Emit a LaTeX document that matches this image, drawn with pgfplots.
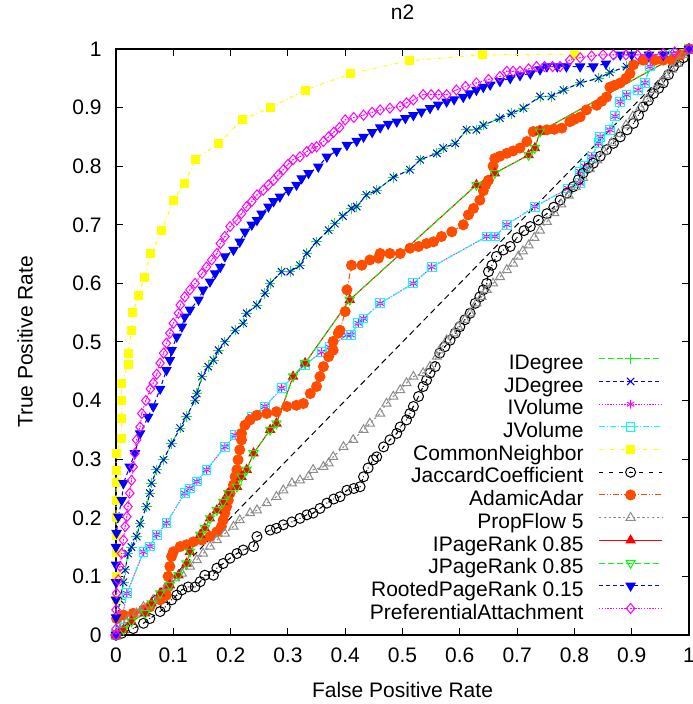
\documentclass[border=0pt]{standalone}
\usepackage{pgfplots}
\pgfplotsset{compat=1.18}
\usepackage{fontspec}
\setmainfont{Liberation Sans}
\definecolor{cgreen}{RGB}{0,255,0}
\definecolor{cblue}{RGB}{0,0,255}
\definecolor{cmag}{RGB}{255,0,255}
\definecolor{ccyan}{RGB}{0,255,255}
\definecolor{cyel}{RGB}{255,255,0}
\definecolor{corange}{RGB}{255,77,0}
\definecolor{cgray}{RGB}{140,140,140}
\definecolor{cred}{RGB}{255,0,0}
\pgfdeclareplotmark{circdot}{%
  \pgfpathcircle{\pgfpointorigin}{\pgfplotmarksize}\pgfusepathqstroke
  \pgfpathcircle{\pgfpointorigin}{0.35pt}\pgfusepathqfill}
\pgfdeclareplotmark{sqline}{%
  \pgfpathrectangle{\pgfpoint{-\pgfplotmarksize}{-\pgfplotmarksize}}{\pgfpoint{2\pgfplotmarksize}{2\pgfplotmarksize}}%
  \pgfpathmoveto{\pgfpoint{-\pgfplotmarksize}{0pt}}\pgfpathlineto{\pgfpoint{\pgfplotmarksize}{0pt}}\pgfusepathqstroke}
\pgfdeclareplotmark{diamdot}{%
  \pgfpathmoveto{\pgfpoint{0pt}{\pgfplotmarksize}}\pgfpathlineto{\pgfpoint{0.85\pgfplotmarksize}{0pt}}%
  \pgfpathlineto{\pgfpoint{0pt}{-\pgfplotmarksize}}\pgfpathlineto{\pgfpoint{-0.85\pgfplotmarksize}{0pt}}\pgfpathclose\pgfusepathqstroke
  \pgfpathcircle{\pgfpointorigin}{0.35pt}\pgfusepathqfill}
\begin{document}
\fontsize{10.5}{12.6}\selectfont
\begin{tikzpicture}
\begin{axis}[
  scale only axis, width=286.5pt, height=293pt,
  xmin=0, xmax=1, ymin=0, ymax=1,
  clip=false,
  xtick={0,0.1,0.2,0.3,0.4,0.5,0.6,0.7,0.8,0.9,1},
  ytick={0,0.1,0.2,0.3,0.4,0.5,0.6,0.7,0.8,0.9,1},
  /pgf/number format/assume math mode=true,
  tick align=inside, major tick length=3.5pt,
  tick style={line width=0.5pt, black},
  axis line style={line width=0.6pt},
  xticklabel style={yshift=-2.75pt},
  yticklabel style={xshift=-3.5pt},
  title={n2}, xlabel={False Positive Rate}, ylabel={True Positive Rate},
  every axis title/.style={at={(axis description cs:0.5,1)}, anchor=center, yshift=18.5pt},
  every axis x label/.style={at={(axis description cs:0.5,0)}, anchor=center, yshift=-27.5pt},
  every axis y label/.style={at={(axis description cs:0,0.5)}, rotate=90, anchor=center, yshift=45.5pt},
  every axis plot/.append style={line width=0.5pt},
  legend plot pos=right,
  legend cell align=right,
  legend image code/.code={\draw[mark repeat=2,mark phase=2] plot coordinates {(0pt,3pt)(15.75pt,3pt)(31.5pt,3pt)};},
  legend style={draw=none, fill=none, at={(axis description cs:0.9546,0.015)}, anchor=south east,
    inner sep=0pt, row sep=0pt, column sep=7.5pt,
    nodes={inner sep=0pt, text height=8pt, text depth=3.35pt}},
]
\addplot[black, dash pattern=on 3pt off 2pt, forget plot] coordinates {(0,0) (1,1)};
% IDegree
\addplot[cgreen, dash pattern=on 3pt off 1.5pt, mark=+, mark size=2.6pt, mark options={solid}] coordinates {
(0,0)(0.002,0.03)(0.007,0.06)(0.013,0.09)(0.016,0.111)(0.021,0.139)(0.027,0.15)(0.036,0.168)(0.042,0.19)(0.053,0.219)(0.059,0.242)(0.062,0.259)(0.071,0.282)(0.083,0.299)(0.097,0.327)(0.112,0.353)(0.123,0.373)(0.138,0.401)(0.141,0.412)(0.15,0.441)(0.161,0.458)(0.17,0.469)(0.179,0.486)(0.19,0.50)(0.208,0.52)(0.222,0.532)(0.228,0.549)(0.246,0.563)(0.26,0.583)(0.269,0.60)(0.289,0.62)(0.304,0.62)(0.321,0.631)(0.333,0.651)(0.35,0.671)(0.371,0.691)(0.382,0.702)(0.396,0.715)(0.411,0.728)(0.42,0.731)(0.437,0.751)(0.455,0.759)(0.484,0.781)(0.513,0.794)(0.531,0.811)(0.56,0.822)(0.571,0.831)(0.592,0.839)(0.612,0.862)(0.629,0.862)(0.641,0.87)(0.67,0.882)(0.69,0.89)(0.711,0.899)(0.74,0.919)(0.76,0.919)(0.781,0.93)(0.81,0.942)(0.842,0.95)(0.862,0.96)(0.891,0.97)(0.932,0.981)(0.96,0.99)(1,1)};
\addlegendentry{IDegree}
% JDegree
\addplot[cblue, dash pattern=on 2pt off 1.5pt, mark=x, mark size=2.6pt, mark options={solid}] coordinates {
(0,0)(0.002,0.03)(0.007,0.06)(0.013,0.09)(0.016,0.111)(0.021,0.139)(0.027,0.15)(0.036,0.168)(0.042,0.19)(0.053,0.219)(0.059,0.242)(0.062,0.259)(0.071,0.282)(0.083,0.299)(0.097,0.327)(0.112,0.353)(0.123,0.373)(0.138,0.401)(0.141,0.412)(0.15,0.441)(0.161,0.458)(0.17,0.469)(0.179,0.486)(0.19,0.50)(0.208,0.52)(0.222,0.532)(0.228,0.549)(0.246,0.563)(0.26,0.583)(0.269,0.60)(0.289,0.62)(0.304,0.62)(0.321,0.631)(0.333,0.651)(0.35,0.671)(0.371,0.691)(0.382,0.702)(0.396,0.715)(0.411,0.728)(0.42,0.731)(0.437,0.751)(0.455,0.759)(0.484,0.781)(0.513,0.794)(0.531,0.811)(0.56,0.822)(0.571,0.831)(0.592,0.839)(0.612,0.862)(0.629,0.862)(0.641,0.87)(0.67,0.882)(0.69,0.89)(0.711,0.899)(0.74,0.919)(0.76,0.919)(0.781,0.93)(0.81,0.942)(0.842,0.95)(0.862,0.96)(0.891,0.97)(0.932,0.981)(0.96,0.99)(1,1)};
\addlegendentry{JDegree}
% IVolume
\addplot[cmag, dash pattern=on 0.7pt off 0.7pt, mark=asterisk, mark size=2.2pt, mark options={solid}] coordinates {
(0,0)(0.007,0.012)(0.019,0.071)(0.048,0.142)(0.059,0.151)(0.071,0.171)(0.088,0.191)(0.12,0.242)(0.129,0.25)(0.141,0.262)(0.158,0.282)(0.19,0.321)(0.208,0.341)(0.237,0.373)(0.26,0.39)(0.289,0.421)(0.33,0.461)(0.359,0.483)(0.373,0.491)(0.403,0.512)(0.41,0.512)(0.423,0.532)(0.432,0.54)(0.461,0.566)(0.519,0.60)(0.551,0.628)(0.647,0.68)(0.661,0.68)(0.682,0.70)(0.731,0.731)(0.789,0.762)(0.81,0.771)(0.81,0.791)(0.818,0.80)(0.83,0.816)(0.842,0.839)(0.845,0.85)(0.862,0.862)(0.871,0.885)(0.88,0.91)(0.891,0.922)(0.911,0.93)(0.923,0.942)(0.932,0.97)(0.973,0.992)(1,1)};
\addlegendentry{IVolume}
% JVolume
\addplot[ccyan, dash pattern=on 3pt off 1pt on 0.5pt off 1pt, mark=sqline, mark size=2.2pt, mark options={solid}] coordinates {
(0,0)(0.007,0.012)(0.019,0.071)(0.048,0.142)(0.059,0.151)(0.071,0.171)(0.088,0.191)(0.12,0.242)(0.129,0.25)(0.141,0.262)(0.158,0.282)(0.19,0.321)(0.208,0.341)(0.237,0.373)(0.26,0.39)(0.289,0.421)(0.33,0.461)(0.359,0.483)(0.373,0.491)(0.403,0.512)(0.41,0.512)(0.423,0.532)(0.432,0.54)(0.461,0.566)(0.519,0.60)(0.551,0.628)(0.647,0.68)(0.661,0.68)(0.682,0.70)(0.731,0.731)(0.789,0.762)(0.81,0.771)(0.81,0.791)(0.818,0.80)(0.83,0.816)(0.842,0.839)(0.845,0.85)(0.862,0.862)(0.871,0.885)(0.88,0.91)(0.891,0.922)(0.911,0.93)(0.923,0.942)(0.932,0.97)(0.973,0.992)(1,1)};
\addlegendentry{JVolume}
% CommonNeighbor
\addplot[cyel, dash pattern=on 2pt off 1.5pt on 0.5pt off 1.5pt, mark=square*, mark size=2pt, mark options={solid, fill=cyel}] coordinates {
(0,0)(0,0.03)(0,0.06)(0,0.10)(0,0.14)(0,0.17)(0,0.2)(0,0.23)(0,0.26)(0,0.28)(0,0.31)(0.009,0.335)(0.01,0.37)(0.01,0.40)(0.01,0.43)(0.021,0.462)(0.021,0.481)(0.027,0.52)(0.029,0.55)(0.04,0.58)(0.049,0.61)(0.061,0.651)(0.08,0.69)(0.1,0.741)(0.12,0.771)(0.139,0.812)(0.179,0.839)(0.22,0.879)(0.27,0.9)(0.33,0.93)(0.41,0.958)(0.512,0.98)(0.64,0.99)(0.801,0.991)(1,1)};
\addlegendentry{CommonNeighbor}
% JaccardCoefficient
\addplot[black, dash pattern=on 2pt off 3pt, mark=circdot, mark size=2.5pt, mark options={solid}] coordinates {
(0,0)(0.01,0.003)(0.03,0.011)(0.048,0.02)(0.059,0.028)(0.077,0.04)(0.086,0.048)(0.097,0.06)(0.106,0.068)(0.115,0.077)(0.126,0.082)(0.138,0.082)(0.147,0.091)(0.155,0.102)(0.17,0.102)(0.176,0.114)(0.187,0.122)(0.199,0.131)(0.211,0.139)(0.222,0.145)(0.24,0.151)(0.246,0.168)(0.269,0.179)(0.28,0.182)(0.292,0.188)(0.307,0.193)(0.321,0.199)(0.333,0.205)(0.344,0.208)(0.356,0.216)(0.368,0.225)(0.38,0.232)(0.391,0.236)(0.403,0.247)(0.415,0.25)(0.426,0.253)(0.432,0.27)(0.44,0.285)(0.449,0.299)(0.455,0.304)(0.467,0.321)(0.478,0.333)(0.49,0.344)(0.496,0.355)(0.507,0.367)(0.513,0.378)(0.519,0.39)(0.528,0.407)(0.536,0.424)(0.542,0.435)(0.548,0.447)(0.557,0.458)(0.565,0.481)(0.574,0.492)(0.583,0.503)(0.592,0.515)(0.6,0.526)(0.609,0.538)(0.618,0.549)(0.627,0.566)(0.635,0.577)(0.641,0.589)(0.647,0.60)(0.65,0.62)(0.656,0.631)(0.664,0.646)(0.676,0.657)(0.688,0.663)(0.70,0.678)(0.712,0.69)(0.723,0.697)(0.737,0.708)(0.752,0.719)(0.764,0.73)(0.775,0.742)(0.787,0.754)(0.798,0.765)(0.807,0.777)(0.815,0.788)(0.824,0.797)(0.833,0.805)(0.845,0.817)(0.856,0.828)(0.868,0.839)(0.88,0.85)(0.892,0.862)(0.903,0.873)(0.912,0.887)(0.92,0.901)(0.929,0.912)(0.938,0.924)(0.947,0.933)(0.955,0.942)(0.964,0.956)(0.973,0.97)(0.982,0.978)(0.99,0.985)(1,1)};
\addlegendentry{JaccardCoefficient}
% AdamicAdar
\addplot[corange, dash pattern=on 3pt off 1pt on 0.5pt off 1pt on 0.5pt off 1pt, mark=*, mark size=2.5pt, mark options={solid, fill=corange}] coordinates {
(0,0)(0.001,0.028)(0.013,0.034)(0.03,0.037)(0.048,0.043)(0.059,0.048)(0.077,0.06)(0.088,0.068)(0.091,0.082)(0.091,0.1)(0.094,0.117)(0.097,0.134)(0.1,0.142)(0.112,0.151)(0.123,0.154)(0.135,0.159)(0.15,0.162)(0.164,0.168)(0.176,0.176)(0.184,0.185)(0.187,0.196)(0.19,0.208)(0.193,0.219)(0.196,0.23)(0.199,0.242)(0.205,0.256)(0.208,0.27)(0.211,0.282)(0.213,0.299)(0.216,0.316)(0.219,0.333)(0.219,0.344)(0.225,0.358)(0.234,0.367)(0.246,0.375)(0.263,0.378)(0.28,0.381)(0.298,0.39)(0.315,0.392)(0.327,0.395)(0.339,0.412)(0.35,0.424)(0.356,0.441)(0.362,0.458)(0.371,0.475)(0.379,0.486)(0.379,0.501)(0.388,0.515)(0.391,0.52)(0.40,0.552)(0.403,0.589)(0.411,0.631)(0.429,0.631)(0.443,0.64)(0.458,0.643)(0.461,0.651)(0.478,0.651)(0.496,0.651)(0.513,0.66)(0.528,0.663)(0.542,0.668)(0.554,0.671)(0.568,0.68)(0.586,0.688)(0.606,0.70)(0.615,0.717)(0.624,0.728)(0.635,0.742)(0.641,0.758)(0.645,0.768)(0.65,0.776)(0.658,0.80)(0.661,0.813)(0.67,0.817)(0.682,0.822)(0.693,0.826)(0.705,0.831)(0.717,0.842)(0.728,0.859)(0.74,0.861)(0.752,0.862)(0.765,0.863)(0.778,0.865)(0.792,0.876)(0.80,0.88)(0.81,0.884)(0.821,0.896)(0.839,0.904)(0.848,0.911)(0.856,0.918)(0.862,0.935)(0.87,0.938)(0.88,0.942)(0.89,0.95)(0.897,0.958)(0.903,0.973)(0.92,0.981)(0.94,0.981)(0.955,0.981)(0.97,0.981)(0.985,0.99)(1,1)};
\addlegendentry{AdamicAdar}
% PropFlow 5
\addplot[cgray, dash pattern=on 1.2pt off 1.2pt, mark=triangle, mark size=2.6pt, mark options={solid}] coordinates {
(0,0)(0.007,0.009)(0.021,0.026)(0.036,0.037)(0.048,0.048)(0.065,0.06)(0.077,0.071)(0.088,0.082)(0.103,0.097)(0.115,0.105)(0.129,0.117)(0.141,0.128)(0.152,0.139)(0.164,0.151)(0.176,0.162)(0.19,0.173)(0.205,0.185)(0.216,0.196)(0.234,0.208)(0.246,0.213)(0.263,0.225)(0.28,0.236)(0.292,0.247)(0.307,0.259)(0.321,0.264)(0.336,0.27)(0.344,0.282)(0.362,0.287)(0.371,0.293)(0.379,0.304)(0.397,0.321)(0.414,0.333)(0.432,0.35)(0.443,0.361)(0.461,0.378)(0.472,0.395)(0.484,0.407)(0.496,0.418)(0.507,0.43)(0.519,0.441)(0.536,0.447)(0.548,0.458)(0.56,0.475)(0.565,0.486)(0.577,0.503)(0.589,0.515)(0.597,0.526)(0.609,0.538)(0.618,0.549)(0.629,0.566)(0.638,0.577)(0.647,0.589)(0.658,0.60)(0.67,0.611)(0.682,0.623)(0.693,0.634)(0.702,0.646)(0.71,0.655)(0.72,0.665)(0.73,0.678)(0.74,0.69)(0.752,0.705)(0.765,0.72)(0.777,0.735)(0.79,0.75)(0.802,0.765)(0.815,0.78)(0.827,0.795)(0.84,0.81)(0.852,0.825)(0.865,0.84)(0.877,0.855)(0.89,0.87)(0.902,0.885)(0.915,0.9)(0.927,0.915)(0.94,0.93)(0.95,0.942)(0.96,0.955)(0.97,0.965)(0.98,0.975)(0.99,0.99)(1,1)};
\addlegendentry{PropFlow 5}
% IPageRank 0.85
\addplot[cred, mark=triangle*, mark size=2.6pt, mark options={solid, fill=cred}] coordinates {
(0,0)(0.013,0.009)(0.027,0.023)(0.051,0.037)(0.062,0.054)(0.077,0.071)(0.094,0.085)(0.109,0.102)(0.123,0.122)(0.129,0.142)(0.147,0.171)(0.155,0.182)(0.164,0.199)(0.176,0.213)(0.187,0.227)(0.196,0.242)(0.211,0.253)(0.219,0.27)(0.228,0.282)(0.24,0.31)(0.269,0.35)(0.28,0.361)(0.309,0.441)(0.33,0.464)(0.408,0.572)(0.629,0.768)(0.661,0.788)(0.72,0.819)(0.731,0.831)(0.74,0.859)(1,1)};
\addlegendentry{IPageRank 0.85}
% JPageRank 0.85
\addplot[cgreen, dash pattern=on 3pt off 1.5pt, mark=triangle, mark size=2.6pt, mark options={solid, rotate=180}] coordinates {
(0,0)(0.013,0.009)(0.027,0.023)(0.051,0.037)(0.062,0.054)(0.077,0.071)(0.094,0.085)(0.109,0.102)(0.123,0.122)(0.129,0.142)(0.147,0.171)(0.155,0.182)(0.164,0.199)(0.176,0.213)(0.187,0.227)(0.196,0.242)(0.211,0.253)(0.219,0.27)(0.228,0.282)(0.24,0.31)(0.269,0.35)(0.28,0.361)(0.309,0.441)(0.33,0.464)(0.408,0.572)(0.629,0.768)(0.661,0.788)(0.72,0.819)(0.731,0.831)(0.74,0.859)(1,1)};
\addlegendentry{JPageRank 0.85}
% RootedPageRank 0.15
\addplot[cblue, dash pattern=on 2pt off 1.5pt, mark=triangle*, mark size=2.6pt, mark options={solid, rotate=180, fill=cblue}] coordinates {
(0,0)(0,0.03)(0,0.06)(0,0.09)(0,0.12)(0,0.15)(0.001,0.174)(0.004,0.202)(0.01,0.23)(0.013,0.259)(0.024,0.287)(0.033,0.31)(0.042,0.344)(0.056,0.372)(0.065,0.39)(0.077,0.42)(0.088,0.452)(0.094,0.469)(0.097,0.486)(0.106,0.509)(0.115,0.526)(0.12,0.543)(0.129,0.555)(0.144,0.572)(0.152,0.589)(0.164,0.603)(0.173,0.617)(0.182,0.628)(0.19,0.646)(0.205,0.657)(0.216,0.671)(0.225,0.688)(0.237,0.70)(0.246,0.708)(0.254,0.719)(0.266,0.731)(0.275,0.74)(0.286,0.748)(0.301,0.759)(0.315,0.768)(0.324,0.779)(0.336,0.788)(0.353,0.799)(0.368,0.816)(0.385,0.826)(0.403,0.836)(0.42,0.843)(0.432,0.85)(0.447,0.858)(0.461,0.866)(0.475,0.872)(0.49,0.876)(0.505,0.882)(0.519,0.887)(0.533,0.893)(0.548,0.899)(0.562,0.905)(0.577,0.91)(0.59,0.914)(0.606,0.918)(0.617,0.924)(0.629,0.93)(0.641,0.935)(0.653,0.939)(0.67,0.945)(0.688,0.95)(0.705,0.955)(0.723,0.958)(0.74,0.965)(0.752,0.97)(0.77,0.97)(0.786,0.97)(0.81,0.97)(0.833,0.97)(0.855,0.975)(0.88,0.99)(0.9,0.99)(0.93,0.99)(0.955,0.99)(1,1)};
\addlegendentry{RootedPageRank 0.15}
% PreferentialAttachment
\addplot[cmag, dash pattern=on 0.7pt off 0.7pt, mark=diamdot, mark size=2.5pt, mark options={solid}] coordinates {
(0,0)(0,0.01)(0,0.043)(0.001,0.071)(0.004,0.094)(0.007,0.117)(0.01,0.139)(0.013,0.162)(0.016,0.185)(0.019,0.202)(0.021,0.219)(0.024,0.242)(0.027,0.264)(0.03,0.287)(0.033,0.31)(0.036,0.333)(0.042,0.355)(0.045,0.378)(0.052,0.40)(0.06,0.42)(0.065,0.43)(0.071,0.445)(0.077,0.464)(0.083,0.481)(0.088,0.498)(0.094,0.515)(0.1,0.532)(0.109,0.549)(0.112,0.563)(0.12,0.577)(0.129,0.589)(0.138,0.60)(0.15,0.617)(0.158,0.628)(0.167,0.64)(0.176,0.651)(0.182,0.668)(0.19,0.68)(0.199,0.697)(0.211,0.708)(0.219,0.719)(0.228,0.731)(0.237,0.74)(0.246,0.751)(0.257,0.759)(0.266,0.768)(0.275,0.776)(0.283,0.785)(0.292,0.794)(0.30,0.803)(0.309,0.811)(0.321,0.816)(0.333,0.825)(0.342,0.831)(0.35,0.833)(0.362,0.842)(0.371,0.85)(0.38,0.858)(0.39,0.866)(0.40,0.879)(0.415,0.883)(0.432,0.887)(0.447,0.892)(0.461,0.896)(0.478,0.899)(0.496,0.902)(0.507,0.908)(0.519,0.913)(0.536,0.922)(0.55,0.922)(0.563,0.922)(0.577,0.922)(0.594,0.93)(0.61,0.936)(0.629,0.942)(0.65,0.948)(0.67,0.953)(0.682,0.962)(0.693,0.962)(0.705,0.962)(0.72,0.966)(0.734,0.97)(0.748,0.97)(0.762,0.97)(0.775,0.97)(0.792,0.981)(0.81,0.985)(0.83,0.988)(0.85,0.99)(0.868,0.99)(0.89,0.99)(0.91,0.99)(0.93,0.99)(0.955,0.992)(0.975,0.995)(1,1)};
\addlegendentry{PreferentialAttachment}
\end{axis}
\pgfresetboundingbox
\path[use as bounding box] (-58pt,-34.5pt) rectangle (288pt,317.5pt);
\end{tikzpicture}
\end{document}
